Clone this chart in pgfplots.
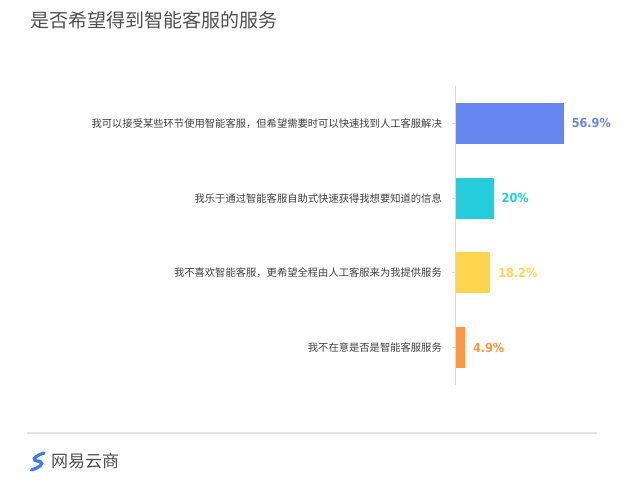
\documentclass[border=0pt]{standalone}
\usepackage{pgfplots}
\pgfplotsset{compat=1.18}
\usepackage{fontspec}
\newfontfamily\cjk{Noto Sans CJK SC}
\newfontfamily\valfont{DejaVu Sans Condensed}

\definecolor{cblue}{HTML}{6687F0}
\definecolor{ccyan}{HTML}{24CDD9}
\definecolor{cyellow}{HTML}{FFD54F}
\definecolor{corange}{HTML}{FF9645}
\definecolor{labgray}{HTML}{404040}
\definecolor{titlegray}{HTML}{505050}
\definecolor{axgray}{HTML}{D9D9D9}

\begin{document}
\begin{tikzpicture}[x=1bp,y=1bp]
\path[use as bounding box, fill=white] (0,0) rectangle (630,480);

% title
\node[anchor=west, inner sep=0pt, text=titlegray, font={\cjk\fontsize{19bp}{22bp}\selectfont}] at (30,460) {是否希望得到智能客服的服务};

\begin{axis}[
    at={(455.5bp,95bp)}, anchor=south west,
    scale only axis, width=152bp, height=299bp,
    xbar, bar width=41bp, bar shift=0pt,
    xmin=0, xmax=80, ymin=-0.5, ymax=3.5,
    y dir=reverse,
    axis x line=none, axis y line*=left,
    y axis line style={axgray, line width=1.5bp},
    xtick=\empty,
    ytick={0,1,2,3},
    yticklabels={我可以接受某些环节使用智能客服，但希望需要时可以快速找到人工客服解决,
                 我乐于通过智能客服自助式快速获得我想要知道的信息,
                 我不喜欢智能客服，更希望全程由人工客服来为我提供服务,
                 我不在意是否是智能客服服务},
    tick align=outside, major tick length=3.5bp,
    ytick style={axgray, line width=0.8bp},
    yticklabel style={inner sep=0pt, xshift=-10bp, text=labgray,
        font={\cjk\fontsize{10.3bp}{12bp}\selectfont}},
    nodes near coords, point meta=explicit symbolic,
    every node near coord/.append style={anchor=west, inner sep=0pt, xshift=8bp,
        font={\valfont\bfseries\fontsize{12.5bp}{15bp}\selectfont}},
]
\addplot[fill=cblue, draw=none, every node near coord/.append style={text=cblue}]
    coordinates {(56.9,0) [56.9\%]};
\addplot[fill=ccyan, draw=none, every node near coord/.append style={text=ccyan}]
    coordinates {(20,1) [20\%]};
\addplot[fill=cyellow, draw=none, every node near coord/.append style={text=cyellow}]
    coordinates {(18.2,2) [18.2\%]};
\addplot[fill=corange, draw=none, every node near coord/.append style={text=corange}]
    coordinates {(4.9,3) [4.9\%]};
\end{axis}

% footer rule
\draw[color=black!10, line width=1.5bp] (27,47) -- (597,47);

% logo
\definecolor{logoblue}{HTML}{3D7BF5}
\draw[logoblue, line width=3.2bp, line cap=round]
    (44,27) .. controls (38,25) and (32,22) .. (35,19.5) -- (40,18.5)
    .. controls (45,16) and (38,12) .. (31.5,10);
\node[anchor=west, inner sep=0pt, text=titlegray, font={\cjk\fontsize{17bp}{20bp}\selectfont}] at (51,19) {网易云商};
\end{tikzpicture}
\end{document}
